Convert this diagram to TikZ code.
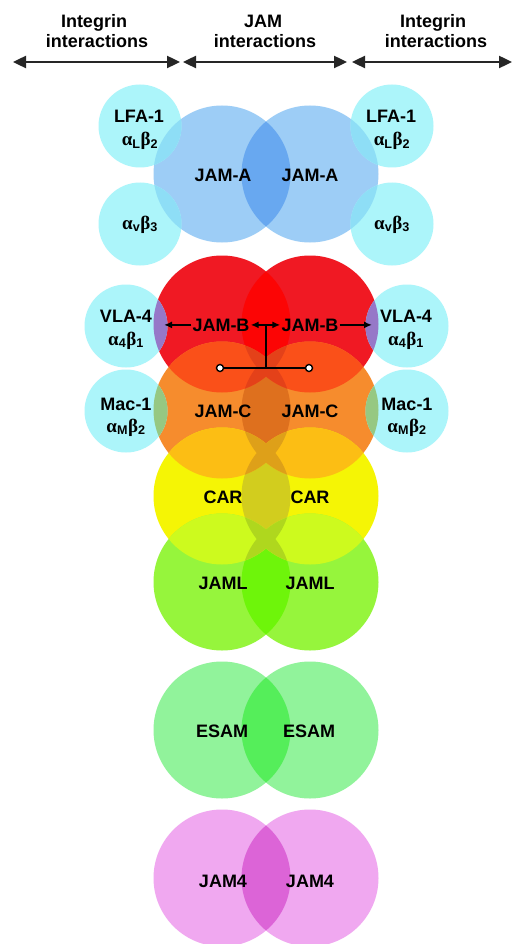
\documentclass[tikz,border=0pt]{standalone}
\usepackage{fontspec}
\setmainfont{Liberation Sans}
\newfontfamily\grk{Liberation Serif}
\usetikzlibrary{arrows.meta,calc}

% fills of the single discs and of their overlaps
\definecolor{cA}{RGB}{157,205,246}   \definecolor{cAA}{RGB}{104,168,240}
\definecolor{cR}{RGB}{240,25,35}     \definecolor{cRR}{RGB}{252,5,5}
\definecolor{cO}{RGB}{246,140,45}    \definecolor{cOO}{RGB}{222,112,30}
\definecolor{cY}{RGB}{245,245,5}     \definecolor{cYY}{RGB}{210,205,30}
\definecolor{cG}{RGB}{150,245,60}    \definecolor{cGG}{RGB}{110,245,10}
\definecolor{cE}{RGB}{145,243,155}   \definecolor{cEE}{RGB}{85,238,90}
\definecolor{cM}{RGB}{240,168,240}   \definecolor{cMM}{RGB}{220,100,215}
\definecolor{cRO}{RGB}{250,80,25}    \definecolor{cROc}{RGB}{228,65,25}
\definecolor{cOY}{RGB}{252,190,20}   \definecolor{cOYc}{RGB}{222,160,25}
\definecolor{cYG}{RGB}{205,250,30}   \definecolor{cYGc}{RGB}{175,215,30}
\definecolor{cK}{RGB}{172,245,250}
\definecolor{cKA}{RGB}{142,222,246}
\definecolor{cKR}{RGB}{150,120,200}
\definecolor{cKO}{RGB}{150,200,130}

\newcommand\Dsk[1]{(#1) circle[radius=68.5pt]}
\newcommand\Ksk[1]{(#1) circle[radius=41.5pt]}
% overlap of two discs
\newcommand\Lens[3]{\begin{scope}\clip \Dsk{#1}; \fill[#3] \Dsk{#2};\end{scope}}
% overlap of one row of discs with the next row
\newcommand\Cross[5]{\begin{scope}\clip \Dsk{#1} \Dsk{#2}; \fill[#5] \Dsk{#3} \Dsk{#4};\end{scope}}
\newcommand\CrossLens[5]{%
  \begin{scope}\clip \Dsk{#1}; \clip \Dsk{#2}; \fill[#5] \Dsk{#3} \Dsk{#4};\end{scope}%
  \begin{scope}\clip \Dsk{#3}; \clip \Dsk{#4}; \fill[#5] \Dsk{#1} \Dsk{#2};\end{scope}}
\newcommand\KLens[3]{\begin{scope}\clip \Ksk{#1}; \fill[#3] \Dsk{#2};\end{scope}}

\begin{document}
\begin{tikzpicture}[x=1pt,y=-1pt,
  hdr/.style={font=\bfseries\fontsize{18}{20}\selectfont, anchor=base, inner sep=0pt},
  jam/.style={font=\bfseries\fontsize{18}{20}\selectfont, anchor=base, inner sep=1pt},
  itg/.style={font=\bfseries\fontsize{18}{20}\selectfont, anchor=base, inner sep=0pt},
  hdrarrow/.style={line width=2.4pt, black!85,
    {Triangle[length=13pt,width=12pt]}-{Triangle[length=13pt,width=12pt]}},
  bind/.style={line width=2pt, black, -{Latex[length=8pt,width=7pt]}},
  bindboth/.style={line width=2pt, black,
    {Latex[length=8pt,width=7pt]}-{Latex[length=8pt,width=7pt]}},
  link/.style={line width=2pt, black},
  endring/.style={circle, draw=black, line width=1.4pt, fill=white, inner sep=0pt, minimum size=7pt}]
\useasboundingbox (0,0) rectangle (513,944);
\fill[white] (0,0) rectangle (513,944);

% disc centres
\coordinate (AL) at (222,174); \coordinate (AR) at (310,174);
\coordinate (BL) at (222,324); \coordinate (BR) at (310,324);
\coordinate (CL) at (222,410); \coordinate (CR) at (310,410);
\coordinate (YL) at (222,496); \coordinate (YR) at (310,496);
\coordinate (GL) at (222,582); \coordinate (GR) at (310,582);
\coordinate (EL) at (222,730); \coordinate (ER) at (310,730);
\coordinate (ML) at (222,878); \coordinate (MR) at (310,878);
\coordinate (k1L) at (140,126); \coordinate (k1R) at (392,126);
\coordinate (k2L) at (140,224); \coordinate (k2R) at (392,224);
\coordinate (k3L) at (126,326); \coordinate (k3R) at (407,326);
\coordinate (k4L) at (126,411); \coordinate (k4R) at (407,411);

% JAM discs
\fill[cA] \Dsk{AL} \Dsk{AR};
\fill[cR] \Dsk{BL} \Dsk{BR};
\fill[cO] \Dsk{CL} \Dsk{CR};
\fill[cY] \Dsk{YL} \Dsk{YR};
\fill[cG] \Dsk{GL} \Dsk{GR};
\fill[cE] \Dsk{EL} \Dsk{ER};
\fill[cM] \Dsk{ML} \Dsk{MR};

\Lens{AL}{AR}{cAA}
\Lens{BL}{BR}{cRR}
\Lens{CL}{CR}{cOO}
\Lens{YL}{YR}{cYY}
\Lens{GL}{GR}{cGG}
\Lens{EL}{ER}{cEE}
\Lens{ML}{MR}{cMM}

\Cross{BL}{BR}{CL}{CR}{cRO}
\Cross{CL}{CR}{YL}{YR}{cOY}
\Cross{YL}{YR}{GL}{GR}{cYG}
\CrossLens{BL}{BR}{CL}{CR}{cROc}
\CrossLens{CL}{CR}{YL}{YR}{cOYc}
\CrossLens{YL}{YR}{GL}{GR}{cYGc}

% integrin discs
\fill[cK] \Ksk{k1L} \Ksk{k1R} \Ksk{k2L} \Ksk{k2R}
          \Ksk{k3L} \Ksk{k3R} \Ksk{k4L} \Ksk{k4R};
\KLens{k1L}{AL}{cKA} \KLens{k1R}{AR}{cKA}
\KLens{k2L}{AL}{cKA} \KLens{k2R}{AR}{cKA}
\KLens{k3L}{BL}{cKR} \KLens{k3R}{BR}{cKR}
\KLens{k4L}{CL}{cKO} \KLens{k4R}{CR}{cKO}

% column headings
\node[hdr] (hL1) at (94,28) {Integrin};
\node[hdr] (hL2) at (97,48) {interactions};
\node[hdr] (hM1) at (263,28) {JAM};
\node[hdr] (hM2) at (265,48) {interactions};
\node[hdr] (hR1) at (433,28) {Integrin};
\node[hdr] (hR2) at (436,48) {interactions};
\coordinate (h1) at (13,62);  \coordinate (h2) at (180,62);
\coordinate (h3) at (183,62); \coordinate (h4) at (347,62);
\coordinate (h5) at (352,62); \coordinate (h6) at (512,62);
\draw[hdrarrow] (h1) -- (h2);
\draw[hdrarrow] (h3) -- (h4);
\draw[hdrarrow] (h5) -- (h6);

% JAM labels
\node[jam] (jamAl) at (223,182) {JAM-A};
\node[jam] (jamAr) at (310,182) {JAM-A};
\node[jam] (jamBl) at (221,331) {JAM-B};
\node[jam] (jamBr) at (310,331) {JAM-B};
\node[jam] (jamCl) at (223,417) {JAM-C};
\node[jam] (jamCr) at (310,417) {JAM-C};
\node[jam] (carl) at (223,503) {CAR};
\node[jam] (carr) at (310,503) {CAR};
\node[jam] (jamll) at (223,589) {JAML};
\node[jam] (jamlr) at (310,589) {JAML};
\node[jam] (esaml) at (222,737) {ESAM};
\node[jam] (esamr) at (309,737) {ESAM};
\node[jam] (jam4l) at (223,887) {JAM4};
\node[jam] (jam4r) at (310,887) {JAM4};

% integrin labels
\node[itg] (lfaL) at (139,123) {LFA-1};
\node[itg] (lfaLg) at (140,146) {{\grk\fontsize{19}{20}\selectfont α}\textsubscript{L}{\grk\fontsize{19}{20}\selectfont β}\textsubscript{2}};
\node[itg] (lfaR) at (391,123) {LFA-1};
\node[itg] (lfaRg) at (392,146) {{\grk\fontsize{19}{20}\selectfont α}\textsubscript{L}{\grk\fontsize{19}{20}\selectfont β}\textsubscript{2}};
\node[itg] (avL) at (140,229) {{\grk\fontsize{19}{20}\selectfont α}\textsubscript{v}{\grk\fontsize{19}{20}\selectfont β}\textsubscript{3}};
\node[itg] (avR) at (392,229) {{\grk\fontsize{19}{20}\selectfont α}\textsubscript{v}{\grk\fontsize{19}{20}\selectfont β}\textsubscript{3}};
\node[itg] (vlaL) at (126,322) {VLA-4};
\node[itg] (vlaLg) at (126,345) {{\grk\fontsize{19}{20}\selectfont α}\textsubscript{4}{\grk\fontsize{19}{20}\selectfont β}\textsubscript{1}};
\node[itg] (vlaR) at (406,322) {VLA-4};
\node[itg] (vlaRg) at (406,345) {{\grk\fontsize{19}{20}\selectfont α}\textsubscript{4}{\grk\fontsize{19}{20}\selectfont β}\textsubscript{1}};
\node[itg] (macL) at (126,410) {Mac-1};
\node[itg] (macLg) at (126,432) {{\grk\fontsize{19}{20}\selectfont α}\textsubscript{M}{\grk\fontsize{19}{20}\selectfont β}\textsubscript{2}};
\node[itg] (macR) at (407,410) {Mac-1};
\node[itg] (macRg) at (407,432) {{\grk\fontsize{19}{20}\selectfont α}\textsubscript{M}{\grk\fontsize{19}{20}\selectfont β}\textsubscript{2}};

% JAM-B binding arrows
\coordinate (tipL) at (164,325);
\coordinate (tipR) at (372,325);
\draw[bind] (jamBl.west) -- (jamBl.west -| tipL);
\draw[bind] (jamBr.east) -- (jamBr.east -| tipR);
\draw[bindboth] (jamBl.east) -- (jamBr.west);
\coordinate (stem) at ($(jamBl.east)!0.5!(jamBr.west)$);
\coordinate (stemfoot) at (stem |- 0,368);
\node[endring] (ringL) at (220,368) {};
\node[endring] (ringR) at (309,368) {};
\draw[link] (stem) -- (stemfoot);
\draw[link] (ringL) -- (ringR);
\end{tikzpicture}
\end{document}
